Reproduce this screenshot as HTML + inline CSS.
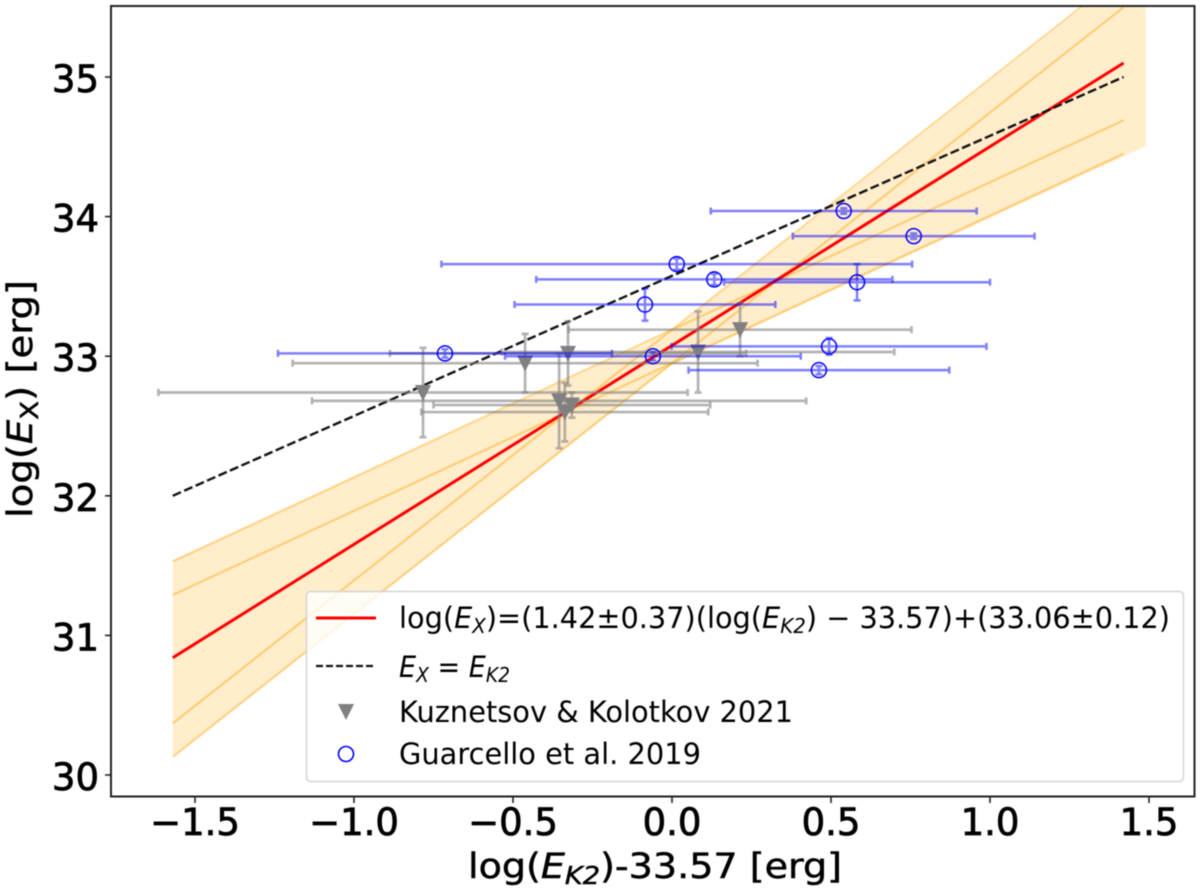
<!DOCTYPE html>
<html>
<head>
<meta charset="utf-8">
<title>log(E_X) vs log(E_K2)</title>
<style>
html,body{margin:0;padding:0;background:#fff;width:1200px;height:894px;overflow:hidden}
svg{display:block;filter:blur(0.45px)}
text{font-family:"DejaVu Sans","Liberation Sans",sans-serif;fill:#000}
.i{font-style:italic}
</style>
</head>
<body>
<svg id="chart" xmlns="http://www.w3.org/2000/svg" width="1200" height="894" viewBox="0 0 1200 894">
  <defs><clipPath id="plot-clip"><rect x="111" y="6" width="1083" height="790"/></clipPath></defs>
  <rect x="0" y="0" width="1200" height="894" fill="#fff"/>
  <g id="band-layer" clip-path="url(#plot-clip)"></g>
  <g id="line-layer" clip-path="url(#plot-clip)"></g>
  <g id="gray-layer" clip-path="url(#plot-clip)"></g>
  <g id="blue-layer" clip-path="url(#plot-clip)"></g>
  <g id="axis-layer"></g>

  <text x="468" y="878" font-size="35" stroke="#000" stroke-width="0.5" textLength="374" lengthAdjust="spacingAndGlyphs">log(<tspan class="i">E</tspan><tspan class="i" font-size="25" dy="6">K2</tspan><tspan dy="-6">)-33.57 [erg]</tspan></text>
  <text transform="translate(32,518) rotate(-90)" x="0" y="0" font-size="35" stroke="#000" stroke-width="0.5" textLength="238" lengthAdjust="spacingAndGlyphs">log(<tspan class="i">E</tspan><tspan font-size="25" dy="6">X</tspan><tspan dy="-6">) [erg]</tspan></text>

  <g>
    <rect x="306.5" y="591.5" width="877" height="190" rx="4" ry="4" fill="#fff" fill-opacity="0.8" stroke="#d4d4d4" stroke-width="1.5"/>
    <line x1="316" y1="618" x2="376" y2="618" stroke="#f00" stroke-width="3"/>
    <text x="399" y="628" font-size="29" textLength="771" lengthAdjust="spacingAndGlyphs">log(<tspan class="i">E</tspan><tspan class="i" font-size="20" dy="5">X</tspan><tspan dy="-5">)=(1.42±0.37)(log(</tspan><tspan class="i">E</tspan><tspan class="i" font-size="20" dy="5">K2</tspan><tspan dy="-5">) − 33.57)+(33.06±0.12)</tspan></text>
    <line x1="316" y1="666" x2="376" y2="666" stroke="#111" stroke-width="2.2" stroke-dasharray="7 3"/>
    <text x="399" y="677" font-size="29" textLength="111" lengthAdjust="spacingAndGlyphs"><tspan class="i">E</tspan><tspan class="i" font-size="20" dy="5">X</tspan><tspan dy="-5"> = </tspan><tspan class="i">E</tspan><tspan class="i" font-size="20" dy="5">K2</tspan></text>
    <polygon points="338,704 354,704 346,720" fill="#808080"/>
    <text x="399" y="722" font-size="29" textLength="394" lengthAdjust="spacingAndGlyphs">Kuznetsov &amp; Kolotkov 2021</text>
    <circle cx="346" cy="754" r="7.5" fill="none" stroke="#00f" stroke-width="1.6"/>
    <text x="399" y="764" font-size="29" textLength="302" lengthAdjust="spacingAndGlyphs">Guarcello et al. 2019</text>
  </g>
</svg>
<script>
/* ---- chart data (in axis units) ---- */
const xTicks = [-1.5, -1.0, -0.5, 0.0, 0.5, 1.0, 1.5];
const xTickLabels = ['−1.5', '−1.0', '−0.5', '0.0', '0.5', '1.0', '1.5'];
const yTicks = [30, 31, 32, 33, 34, 35];
const yTickLabels = ['30', '31', '32', '33', '34', '35'];

const lineX = [-1.57, 1.42];
const fitValues = [30.84, 35.1];
const equalityValues = [32.0, 35.0];
const fitLow1 = [31.53, 34.69];
const fitLow2 = [30.37, 35.74];
const fitLow3 = [31.29, 34.45];
const fitLow4 = [30.13, 35.5];

const bandX = [-1.57, 0, 1.49];
const bandTop = [31.53, 33.18, 35.85];
const bandBottom = [30.13, 32.94, 34.505];

const grayX = [-0.783, -0.462, -0.327, 0.082, 0.214, -0.355, -0.315, -0.337];
const grayY = [32.74, 32.95, 33.02, 33.03, 33.19, 32.68, 32.65, 32.60];
const grayXErr = [0.832, 0.731, 0.560, 0.617, 0.539, 0.777, 0.435, 0.451];
const grayYErr = [0.32, 0.21, 0.23, 0.29, 0.19, 0.34, 0.09, 0.21];

const blueX = [0.015, 0.133, -0.085, -0.714, -0.06, 0.494, 0.462, 0.582, 0.54, 0.76];
const blueY = [33.66, 33.55, 33.37, 33.02, 33.0, 33.07, 32.9, 33.53, 34.04, 33.86];
const blueXErr = [0.74, 0.56, 0.41, 0.525, 0.465, 0.495, 0.41, 0.418, 0.418, 0.38];
const blueYErr = [0.04, 0.04, 0.115, 0.03, 0.03, 0.06, 0.03, 0.13, 0.02, 0.02];

/* ---- axis functions ---- */
const xScale = v => 672 + 318 * v;
const yScale = v => 77 + (35 - v) * 139.6;
const NS = 'http://www.w3.org/2000/svg';
function mk(tag, parentId, attrs) {
  const n = document.createElementNS(NS, tag);
  for (const k in attrs) n.setAttribute(k, attrs[k]);
  document.getElementById(parentId).appendChild(n);
  return n;
}

/* band fill */
const bandPts = [];
bandX.forEach((x, i) => bandPts.push(xScale(x) + ',' + yScale(bandTop[i])));
for (let i = bandX.length - 1; i >= 0; i--) bandPts.push(xScale(bandX[i]) + ',' + yScale(bandBottom[i]));
const band = mk('polygon', 'band-layer', {points: bandPts.join(' '), fill: '#ffa500', 'fill-opacity': 0.2});



/* band boundary lines */
[fitLow1, fitLow2, fitLow3, fitLow4].forEach(vals => {
  const l = mk('line', 'band-layer', {x1: xScale(lineX[0]), y1: yScale(vals[0]), x2: xScale(lineX[1]), y2: yScale(vals[1]), stroke: '#ffa500', 'stroke-opacity': 0.42, 'stroke-width': 2.2});
  
  
});

/* red fit */
const fit = mk('line', 'line-layer', {x1: xScale(lineX[0]), y1: yScale(fitValues[0]), x2: xScale(lineX[1]), y2: yScale(fitValues[1]), stroke: '#f00', 'stroke-width': 3});



/* equality dashed */
const eq = mk('line', 'line-layer', {x1: xScale(lineX[0]), y1: yScale(equalityValues[0]), x2: xScale(lineX[1]), y2: yScale(equalityValues[1]), stroke: '#111', 'stroke-width': 2.4, 'stroke-dasharray': '9 3.5'});



/* error bars */
function errBars(layer, x, y, xe, ye, color, opacity, width, cap, name) {
  const px = xScale(x), py = yScale(y);
  const x0 = xScale(x - xe), x1 = xScale(x + xe), y0 = yScale(y - ye), y1 = yScale(y + ye);
  const d = 'M' + x0 + ' ' + py + 'H' + x1 +
            'M' + px + ' ' + y0 + 'V' + y1 +
            'M' + x0 + ' ' + (py - cap) + 'V' + (py + cap) +
            'M' + x1 + ' ' + (py - cap) + 'V' + (py + cap) +
            'M' + (px - cap) + ' ' + y0 + 'H' + (px + cap) +
            'M' + (px - cap) + ' ' + y1 + 'H' + (px + cap);
  const p = mk('path', layer, {d: d, fill: 'none', stroke: color, 'stroke-opacity': opacity, 'stroke-width': width});
  
  
}

grayX.forEach((x, i) => {
  errBars('gray-layer', x, grayY[i], grayXErr[i], grayYErr[i], '#808080', 0.6, 2.7, 3.5, 'kuznetsov-error-bar');
});
grayX.forEach((x, i) => {
  const px = xScale(x), py = yScale(grayY[i]);
  const t = mk('polygon', 'gray-layer', {points: (px - 8) + ',' + (py - 7.5) + ' ' + (px + 8) + ',' + (py - 7.5) + ' ' + px + ',' + (py + 8.5), fill: '#808080'});
  
  
});

blueX.forEach((x, i) => {
  errBars('blue-layer', x, blueY[i], blueXErr[i], blueYErr[i], '#0000ff', 0.5, 2.5, 3.5, 'guarcello-error-bar');
});
blueX.forEach((x, i) => {
  const c = mk('circle', 'blue-layer', {cx: xScale(x), cy: yScale(blueY[i]), r: 7.5, fill: 'none', stroke: '#0000ff', 'stroke-width': 1.5});
  
  
});

/* axes */
const frame = mk('rect', 'axis-layer', {x: 111, y: 6, width: 1083.5, height: 790.5, fill: 'none', stroke: '#222', 'stroke-width': 2});



xTicks.forEach((v, i) => {
  const t = mk('line', 'axis-layer', {x1: xScale(v), x2: xScale(v), y1: 797, y2: 803, stroke: '#222', 'stroke-width': 1.6});
  
  
  const l = mk('text', 'axis-layer', {x: xScale(v), y: 835, 'font-size': 37, 'text-anchor': 'middle', stroke: '#000', 'stroke-width': 0.8});
  
  
  l.textContent = xTickLabels[i];
});
yTicks.forEach((v, i) => {
  const t = mk('line', 'axis-layer', {x1: 105, x2: 111, y1: yScale(v), y2: yScale(v), stroke: '#222', 'stroke-width': 1.6});
  
  
  const l = mk('text', 'axis-layer', {x: 99, y: yScale(v) + 15, 'font-size': 37, 'text-anchor': 'end', stroke: '#000', 'stroke-width': 0.8});
  
  
  l.textContent = yTickLabels[i];
});
</script>
</body>
</html>
